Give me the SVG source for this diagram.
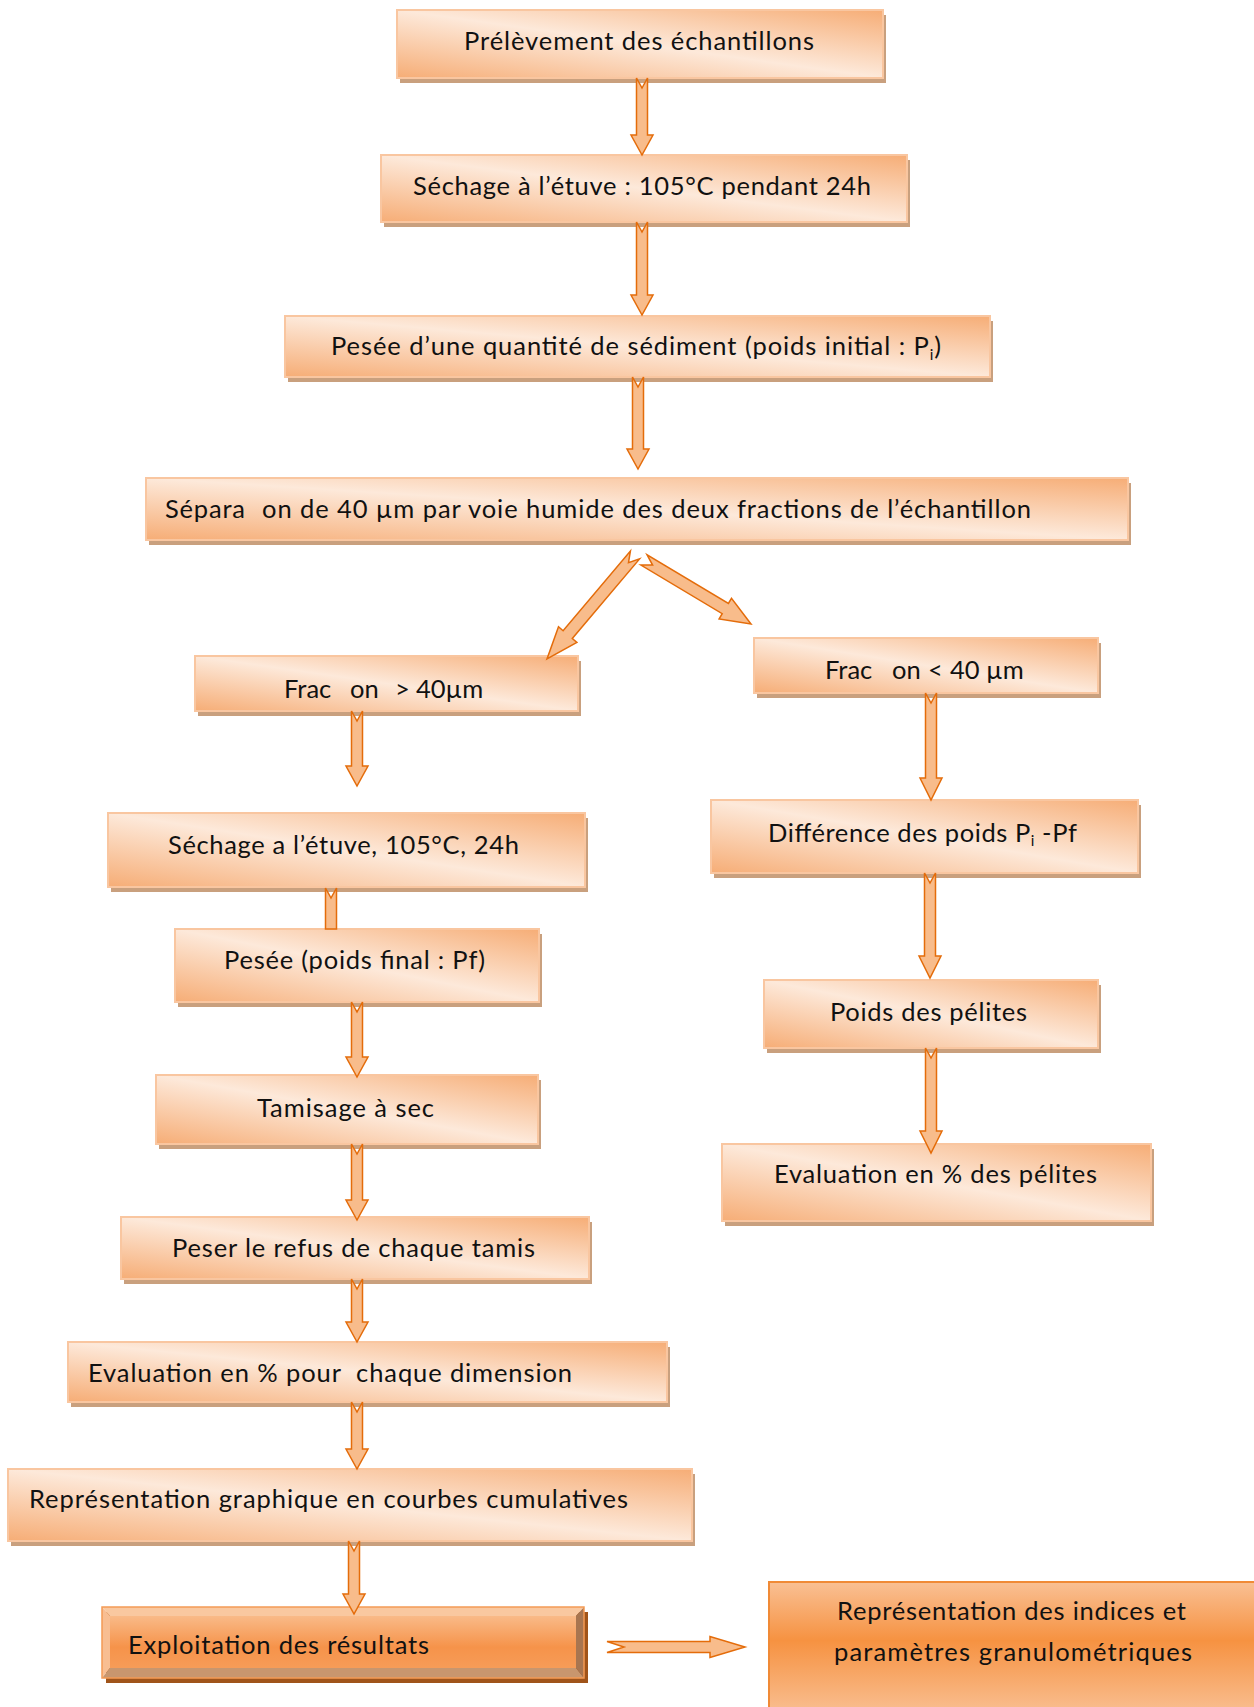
<svg xmlns="http://www.w3.org/2000/svg" width="1254" height="1707" viewBox="0 0 1254 1707">
<defs>
<linearGradient id="g" x1="0" y1="1" x2="1" y2="0">
<stop offset="0" stop-color="#F6AD76"/>
<stop offset="0.5" stop-color="#FDE9DA"/>
<stop offset="1" stop-color="#F6AD76"/>
</linearGradient>
<linearGradient id="face" x1="0" y1="0" x2="0" y2="1">
<stop offset="0" stop-color="#F9BA88"/>
<stop offset="0.6" stop-color="#F6934A"/>
<stop offset="1" stop-color="#F69C58"/>
</linearGradient>
<linearGradient id="big" gradientUnits="userSpaceOnUse" x1="0" y1="1582" x2="0" y2="1712">
<stop offset="0" stop-color="#F9C094"/>
<stop offset="0.45" stop-color="#F69241"/>
<stop offset="1" stop-color="#F9BE90"/>
</linearGradient>
</defs>
<style>
.sh{fill:#C9A07E}
.bx{fill:url(#g);stroke:#F9C6A0;stroke-width:2}
.t{font-family:Lato,"Liberation Sans",sans-serif;font-size:25.5px;fill:#111}
.sub{font-size:15px}
.ar{fill:#F8BC8B;stroke:#E46C0A;stroke-width:1.5;stroke-linejoin:miter}
</style>
<rect width="1254" height="1707" fill="#FFFFFF"/>

<g id="n1"><rect class="sh" x="400" y="15" width="486" height="68"/><rect class="bx" x="397" y="10" width="486" height="68"/><text class="t" x="464" y="50" textLength="350">Prélèvement des échantillons</text></g>
<g id="n2"><rect class="sh" x="384" y="160" width="526" height="67"/><rect class="bx" x="381" y="155" width="526" height="67"/><text class="t" x="413" y="195" textLength="458">Séchage à l’étuve : 105°C pendant 24h</text></g>
<g id="n3"><rect class="sh" x="288" y="321" width="705" height="61"/><rect class="bx" x="285" y="316" width="705" height="61"/><text class="t" x="331" y="355" textLength="610">Pesée d’une quantité de sédiment (poids initial : P<tspan class="sub" dy="5">i</tspan><tspan dy="-5">)</tspan></text></g>
<g id="n4"><rect class="sh" x="149" y="483" width="982" height="62"/><rect class="bx" x="146" y="478" width="982" height="62"/><text class="t" x="165" y="518" textLength="80">Sépara</text><text class="t" x="262" y="518" textLength="769">on de 40 µm par voie humide des deux fractions de l’échantillon</text></g>
<g id="n5"><rect class="sh" x="198" y="661" width="383" height="55"/><rect class="bx" x="195" y="656" width="383" height="55"/><text class="t" y="698"><tspan x="284">Frac</tspan><tspan x="350">on</tspan><tspan x="395">&gt;</tspan><tspan x="416">40µm</tspan></text></g>
<g id="n6"><rect class="sh" x="757" y="643" width="344" height="55"/><rect class="bx" x="754" y="638" width="344" height="55"/><text class="t" y="679"><tspan x="825">Frac</tspan><tspan x="892">on</tspan><tspan x="928">&lt;</tspan><tspan x="950">40 µm</tspan></text></g>
<g id="n7"><rect class="sh" x="111" y="818" width="477" height="74"/><rect class="bx" x="108" y="813" width="477" height="74"/><text class="t" x="168" y="854" textLength="351">Séchage a l’étuve, 105°C, 24h</text></g>
<g id="n8"><rect class="sh" x="178" y="934" width="364" height="73"/><rect class="bx" x="175" y="929" width="364" height="73"/><text class="t" x="224" y="969" textLength="261">Pesée (poids final : Pf)</text></g>
<g id="n9"><rect class="sh" x="159" y="1080" width="382" height="69"/><rect class="bx" x="156" y="1075" width="382" height="69"/><text class="t" x="257" y="1117" textLength="177">Tamisage à sec</text></g>
<g id="n10"><rect class="sh" x="124" y="1222" width="468" height="62"/><rect class="bx" x="121" y="1217" width="468" height="62"/><text class="t" x="172" y="1257" textLength="363">Peser le refus de chaque tamis</text></g>
<g id="n11"><rect class="sh" x="71" y="1347" width="599" height="60"/><rect class="bx" x="68" y="1342" width="599" height="60"/><text class="t" x="88" y="1382" textLength="484" xml:space="preserve">Evaluation en % pour  chaque dimension</text></g>
<g id="n12"><rect class="sh" x="11" y="1474" width="684" height="72"/><rect class="bx" x="8" y="1469" width="684" height="72"/><text class="t" x="29" y="1508" textLength="599">Représentation graphique en courbes cumulatives</text></g>
<g id="n13">
<rect x="106" y="1612" width="482" height="71" fill="#A0541A"/>
<polygon points="102,1607 584,1607 576,1616 110,1616" fill="#F9C8A0"/>
<polygon points="102,1607 110,1616 110,1668 102,1678" fill="#F8BE92"/>
<polygon points="102,1678 110,1668 576,1668 584,1678" fill="#C8966E"/>
<polygon points="584,1607 576,1616 576,1668 584,1678" fill="#A87550"/>
<rect x="110" y="1616" width="466" height="52" fill="url(#face)"/>
<rect x="102" y="1607" width="482" height="71" fill="none" stroke="#F39A55" stroke-width="1.5"/>
<text class="t" x="128" y="1654" textLength="301">Exploitation des résultats</text></g>
<g id="n14"><rect x="769" y="1582" width="500" height="140" fill="url(#big)" stroke="#F08A36" stroke-width="2"/><text class="t" x="837" y="1620" textLength="349">Représentation des indices et</text><text class="t" x="834" y="1661" textLength="358">paramètres granulométriques</text></g>
<g id="n15"><rect class="sh" x="714" y="805" width="427" height="73"/><rect class="bx" x="711" y="800" width="427" height="73"/><text class="t" x="768" y="842" textLength="309">Différence des poids P<tspan class="sub" dy="4">i</tspan><tspan dy="-4"> -Pf</tspan></text></g>
<g id="n16"><rect class="sh" x="767" y="985" width="334" height="68"/><rect class="bx" x="764" y="980" width="334" height="68"/><text class="t" x="830" y="1021" textLength="197">Poids des pélites</text></g>
<g id="n17"><rect class="sh" x="725" y="1149" width="429" height="77"/><rect class="bx" x="722" y="1144" width="429" height="77"/><text class="t" x="774" y="1183" textLength="323">Evaluation en % des pélites</text></g>

<g id="connectors">
<polygon class="ar" points="636.5,78 642,88 647.5,78 647.5,135 653,135 642,155 631,135 636.5,135"/>
<polygon class="ar" points="636.5,222 642,232 647.5,222 647.5,295 653,295 642,315 631,295 636.5,295"/>
<polygon class="ar" points="632.5,377 638,387 643.5,377 643.5,449 649,449 638,469 627,449 632.5,449"/>
<polygon class="ar" points="630.4,551.1 628.5,562.6 639.6,558.9 572.3,638.5 576.9,642.4 547,659 558.5,626.8 563.1,630.7"/>
<polygon class="ar" points="647.1,554.9 652.6,565.1 640.9,565.1 722.2,613.7 719.1,618.9 751,624 731.5,598.3 728.4,603.5"/>
<polygon class="ar" points="351.5,711 357,721 362.5,711 362.5,766 368,766 357,786 346,766 351.5,766"/>
<polygon class="ar" points="325.5,888 331,898 336.5,888 336.5,929 325.5,929"/>
<polygon class="ar" points="351.5,1002 357,1012 362.5,1002 362.5,1057 368,1057 357,1077 346,1057 351.5,1057"/>
<polygon class="ar" points="351.5,1144 357,1154 362.5,1144 362.5,1200 368,1200 357,1220 346,1200 351.5,1200"/>
<polygon class="ar" points="351.5,1279 357,1289 362.5,1279 362.5,1322 368,1322 357,1342 346,1322 351.5,1322"/>
<polygon class="ar" points="351.5,1402 357,1412 362.5,1402 362.5,1449 368,1449 357,1469 346,1449 351.5,1449"/>
<polygon class="ar" points="348.5,1541 354,1551 359.5,1541 359.5,1594 365,1594 354,1614 343,1594 348.5,1594"/>
<polygon class="ar" points="925.5,693 931,703 936.5,693 936.5,778 942,778 931,800 920,778 925.5,778"/>
<polygon class="ar" points="924.5,873 930,883 935.5,873 935.5,956 941,956 930,978 919,956 924.5,956"/>
<polygon class="ar" points="925.5,1048 931,1058 936.5,1048 936.5,1131 942,1131 931,1153 920,1131 925.5,1131"/>
<polygon class="ar" points="607,1641.5 624,1647 607,1652.5 710,1652.5 710,1657.5 745,1647 710,1636.5 710,1641.5"/>
</g>
</svg>
